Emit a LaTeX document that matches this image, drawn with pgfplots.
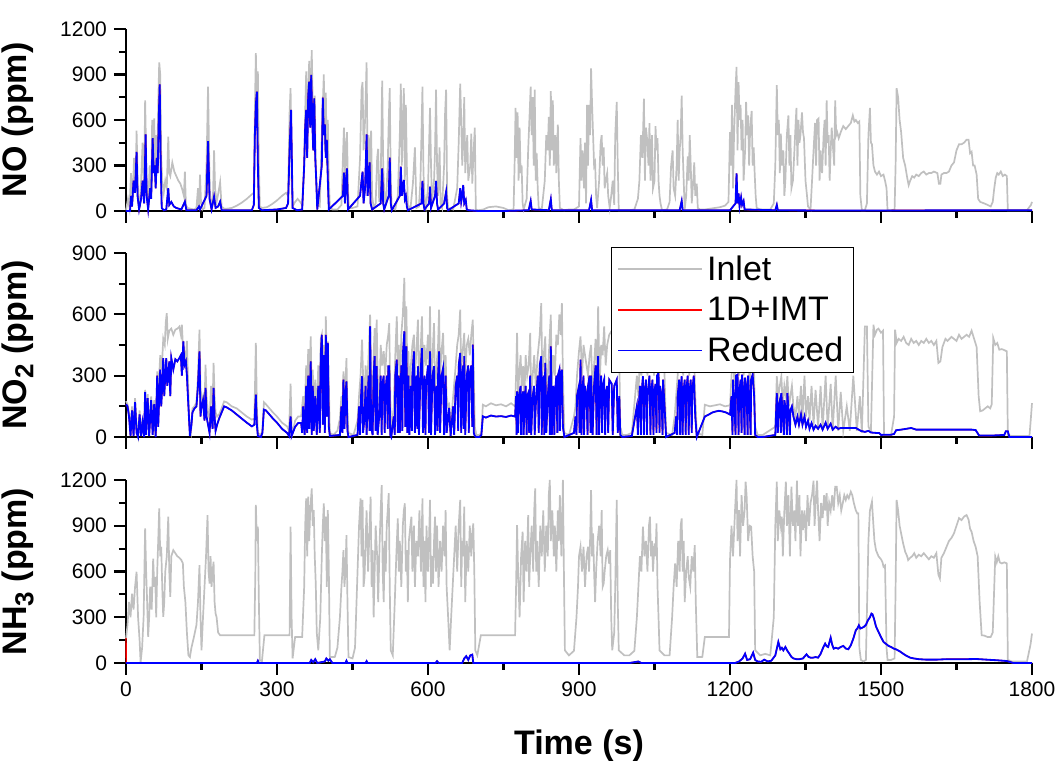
\documentclass[border=0pt]{standalone}
\usepackage{pgfplots}
\pgfplotsset{compat=1.18}
\usepackage{pgfplotstable}
\usepackage{fontspec}
\setmainfont{Liberation Sans}
\definecolor{inletgray}{RGB}{192,192,192}
\definecolor{redblue}{RGB}{0,0,255}
\definecolor{imtred}{RGB}{255,0,0}

% ---------------- NO inlet ----------------
\pgfplotstableread[row sep=\\]{t v\\
0 5\\4 80\\7 20\\10 250\\13 60\\16 350\\19 150\\21 530\\24 100\\27 20\\30 200\\33 450\\36 120\\38 730\\41 200\\44 30\\47 300\\50 120\\52 600\\54 400\\56 610\\58 250\\60 500\\62 300\\64 700\\66 980\\68 900\\70 350\\72 200\\75 120\\78 200\\81 150\\84 490\\86 250\\88 230\\92 320\\96 260\\100 230\\104 200\\108 180\\112 140\\115 100\\117 260\\119 40\\122 20\\128 15\\135 10\\140 20\\143 150\\145 10\\147 240\\149 60\\152 10\\156 20\\160 300\\163 820\\165 400\\167 80\\170 50\\173 120\\175 400\\177 150\\180 60\\183 110\\187 190\\190 30\\195 15\\200 15\\210 20\\220 35\\230 55\\240 80\\250 110\\254 120\\256 650\\258 1040\\260 700\\262 920\\264 300\\266 30\\270 20\\280 25\\290 45\\300 70\\310 100\\318 120\\322 100\\325 650\\327 810\\329 200\\331 30\\336 60\\341 80\\346 60\\350 40\\354 300\\356 650\\358 920\\360 500\\362 800\\364 990\\366 600\\369 1060\\371 700\\373 400\\375 760\\377 300\\380 40\\385 30\\389 500\\391 700\\393 900\\395 400\\397 780\\399 300\\401 600\\403 200\\405 30\\410 10\\420 10\\428 40\\431 350\\433 550\\435 200\\437 420\\439 520\\441 150\\443 20\\450 20\\460 30\\465 350\\468 800\\470 850\\472 400\\475 600\\478 980\\480 300\\482 500\\484 250\\487 530\\489 100\\492 20\\496 50\\499 350\\501 410\\503 60\\506 200\\509 860\\511 300\\513 120\\516 40\\520 300\\522 600\\524 810\\526 200\\528 20\\535 10\\540 100\\544 500\\546 840\\548 300\\550 600\\552 810\\554 200\\556 700\\558 300\\560 40\\565 10\\570 180\\574 420\\577 20\\582 30\\585 200\\587 500\\589 820\\591 250\\593 100\\596 30\\600 150\\604 680\\606 300\\608 60\\612 200\\614 400\\616 800\\618 300\\620 100\\623 420\\625 50\\628 20\\632 300\\634 650\\636 800\\638 100\\640 20\\650 10\\658 150\\661 450\\664 840\\666 600\\668 300\\670 450\\672 750\\674 250\\676 400\\678 500\\680 200\\684 300\\686 510\\688 180\\690 350\\693 550\\695 10\\700 5\\710 10\\720 25\\735 30\\750 20\\760 5\\770 10\\772 300\\774 680\\776 350\\778 650\\780 200\\782 550\\784 250\\786 300\\788 50\\790 10\\796 80\\799 400\\802 650\\804 820\\806 500\\808 750\\810 300\\812 800\\814 200\\816 380\\818 150\\820 20\\826 10\\832 200\\835 500\\838 400\\840 620\\842 300\\844 790\\846 400\\848 730\\850 300\\853 500\\855 250\\858 570\\860 200\\862 20\\870 5\\880 10\\890 10\\900 30\\903 480\\905 200\\907 400\\910 150\\912 450\\914 50\\916 700\\918 300\\920 700\\922 500\\924 940\\926 700\\928 500\\930 300\\932 320\\934 100\\936 20\\940 200\\943 450\\945 500\\947 300\\949 420\\951 150\\953 200\\956 250\\958 100\\961 20\\964 100\\967 200\\970 40\\972 500\\975 720\\977 300\\979 5\\990 5\\1000 5\\1010 10\\1017 80\\1020 200\\1023 500\\1026 350\\1029 740\\1031 200\\1033 550\\1036 450\\1038 300\\1040 580\\1042 200\\1045 500\\1047 150\\1050 200\\1052 560\\1054 400\\1056 480\\1058 200\\1060 100\\1062 50\\1065 5\\1075 10\\1080 60\\1083 300\\1086 400\\1088 150\\1091 100\\1094 300\\1096 600\\1098 200\\1100 400\\1102 500\\1104 760\\1106 400\\1108 200\\1110 10\\1113 100\\1116 360\\1118 200\\1120 500\\1122 300\\1124 50\\1127 200\\1129 320\\1131 100\\1134 180\\1136 20\\1140 10\\1150 10\\1160 15\\1170 20\\1180 25\\1190 35\\1197 60\\1200 520\\1202 300\\1204 700\\1206 150\\1208 500\\1211 800\\1213 950\\1215 400\\1217 850\\1219 600\\1221 700\\1223 400\\1225 600\\1227 200\\1230 400\\1232 720\\1234 500\\1236 630\\1238 300\\1240 540\\1243 660\\1245 300\\1247 420\\1249 250\\1251 100\\1253 20\\1260 10\\1270 10\\1280 10\\1287 50\\1290 300\\1293 830\\1295 500\\1297 600\\1299 250\\1301 510\\1303 300\\1306 400\\1308 100\\1310 200\\1313 500\\1316 630\\1318 300\\1320 500\\1322 150\\1325 200\\1328 400\\1330 550\\1332 680\\1334 300\\1336 600\\1338 450\\1340 500\\1343 650\\1345 520\\1347 480\\1350 200\\1353 100\\1355 30\\1360 10\\1363 200\\1366 400\\1369 580\\1371 300\\1373 600\\1376 610\\1378 200\\1380 400\\1383 250\\1386 500\\1388 600\\1390 300\\1392 730\\1394 450\\1396 500\\1398 200\\1400 400\\1402 550\\1404 450\\1407 300\\1409 730\\1411 500\\1413 520\\1416 480\\1420 520\\1425 560\\1430 540\\1435 560\\1440 580\\1444 630\\1447 590\\1450 600\\1454 580\\1457 590\\1459 100\\1462 5\\1468 5\\1472 50\\1475 500\\1478 680\\1480 450\\1482 440\\1485 300\\1488 260\\1492 240\\1496 260\\1500 230\\1505 240\\1508 200\\1511 150\\1513 5\\1520 5\\1527 10\\1529 300\\1531 810\\1534 750\\1537 600\\1540 520\\1544 350\\1548 300\\1552 220\\1555 170\\1558 200\\1562 230\\1566 220\\1570 240\\1575 230\\1580 250\\1585 260\\1590 240\\1595 250\\1600 250\\1605 260\\1612 250\\1615 180\\1618 180\\1620 240\\1625 250\\1630 250\\1635 260\\1640 300\\1645 320\\1650 400\\1655 440\\1660 440\\1665 450\\1670 470\\1674 470\\1677 380\\1680 390\\1683 300\\1686 300\\1690 240\\1693 80\\1697 60\\1705 50\\1712 40\\1718 30\\1722 60\\1725 150\\1728 220\\1731 250\\1734 240\\1738 260\\1742 230\\1746 240\\1750 230\\1752 5\\1760 5\\1790 5\\1798 40\\1800 60\\
}\NOin

% ---------------- NO reduced ----------------
\pgfplotstableread[row sep=\\]{t v\\
0 0\\8 0\\10 100\\12 30\\15 200\\18 120\\21 390\\23 100\\26 10\\30 80\\33 200\\36 50\\39 505\\41 100\\44 10\\48 150\\50 80\\53 480\\55 250\\57 300\\59 150\\61 350\\63 250\\65 600\\67 835\\69 300\\71 20\\75 5\\80 10\\84 150\\86 40\\90 60\\95 30\\100 20\\110 10\\117 62\\120 5\\140 5\\145 30\\147 10\\160 100\\163 460\\166 80\\170 10\\173 60\\175 95\\178 20\\183 30\\187 62\\190 5\\250 5\\254 40\\256 500\\258 700\\260 787\\262 300\\264 20\\270 5\\300 10\\318 20\\322 50\\325 400\\328 666\\331 20\\340 5\\350 10\\354 300\\356 550\\358 666\\360 350\\362 760\\364 853\\366 550\\368 897\\370 600\\372 400\\374 743\\376 350\\378 200\\380 10\\389 300\\391 747\\393 500\\395 571\\397 350\\399 468\\401 200\\403 10\\431 100\\433 253\\435 50\\437 200\\439 281\\441 10\\465 100\\468 200\\470 259\\472 50\\475 150\\478 505\\480 100\\482 200\\484 321\\486 50\\489 10\\506 50\\509 281\\511 50\\513 10\\522 100\\524 352\\526 50\\528 5\\544 100\\546 292\\548 100\\550 150\\552 204\\554 80\\556 100\\558 30\\560 5\\587 50\\589 198\\591 50\\593 10\\602 50\\604 160\\606 20\\614 100\\616 198\\618 50\\620 10\\632 50\\636 127\\638 20\\640 5\\661 50\\664 150\\666 60\\668 100\\670 171\\672 50\\675 73\\677 10\\680 5\\700 0\\750 0\\800 5\\804 66\\806 10\\840 5\\844 77\\846 5\\920 5\\924 73\\926 5\\1100 5\\1104 66\\1106 5\\1200 5\\1211 50\\1213 248\\1215 50\\1217 116\\1219 30\\1222 90\\1224 40\\1227 66\\1229 10\\1290 5\\1293 40\\1295 5\\1400 3\\1800 5\\
}\NOred

% ---------------- NO2 inlet ----------------
\pgfplotstableread[row sep=\\]{t v\\
0 175\\3 160\\6 120\\9 40\\12 150\\15 20\\18 190\\21 60\\24 10\\27 130\\30 20\\33 90\\36 10\\38 231\\40 50\\43 210\\46 30\\50 199\\53 60\\56 180\\59 10\\62 321\\65 250\\68 400\\71 330\\74 480\\77 450\\79 560\\81 606\\83 480\\86 520\\90 530\\94 500\\98 525\\102 530\\106 540\\109 500\\111 549\\113 450\\116 420\\119 378\\121 470\\123 300\\126 50\\129 20\\132 140\\136 150\\140 170\\143 300\\146 525\\148 250\\150 170\\153 200\\156 150\\158 354\\160 200\\163 120\\166 90\\169 250\\172 150\\174 362\\176 200\\178 120\\181 100\\185 110\\190 140\\195 174\\200 170\\210 150\\220 140\\230 120\\240 100\\250 85\\255 90\\258 460\\260 150\\262 20\\268 10\\271 30\\274 170\\278 160\\285 140\\292 120\\300 100\\310 70\\320 52\\324 30\\327 261\\329 50\\331 20\\336 80\\342 100\\348 101\\352 200\\355 120\\358 350\\360 200\\362 430\\364 250\\367 492\\369 200\\371 330\\373 150\\376 280\\379 100\\382 350\\385 200\\387 480\\389 500\\391 300\\393 450\\395 200\\397 590\\399 350\\401 468\\403 250\\405 20\\412 10\\420 30\\425 90\\428 200\\430 150\\432 321\\434 200\\436 260\\438 386\\440 120\\442 20\\452 10\\460 80\\463 200\\466 300\\469 476\\471 300\\474 150\\476 350\\479 250\\482 400\\485 598\\487 300\\490 150\\492 400\\494 533\\496 250\\498 574\\500 300\\503 150\\506 450\\509 350\\512 420\\515 300\\518 450\\521 500\\523 557\\525 200\\527 20\\532 150\\535 400\\538 590\\540 350\\542 450\\544 200\\547 500\\550 600\\553 778\\555 400\\557 639\\559 300\\561 420\\563 200\\566 350\\569 450\\572 500\\574 300\\577 420\\580 574\\582 250\\585 400\\588 590\\590 300\\593 450\\596 350\\600 500\\602 300\\604 639\\606 250\\609 400\\612 557\\614 200\\617 350\\620 450\\622 623\\624 300\\627 420\\630 509\\632 300\\635 400\\637 200\\640 150\\642 158\\645 50\\650 200\\655 350\\658 450\\661 500\\664 623\\666 300\\668 400\\670 450\\672 509\\674 300\\677 450\\680 480\\683 400\\686 500\\689 574\\691 300\\693 50\\696 10\\702 10\\706 20\\709 158\\715 150\\725 165\\735 155\\745 160\\755 150\\765 165\\773 150\\775 300\\777 509\\779 200\\781 300\\784 400\\786 250\\789 346\\791 150\\794 400\\797 300\\800 350\\803 509\\805 200\\808 300\\811 400\\814 250\\818 400\\822 500\\825 655\\827 300\\830 400\\833 492\\835 200\\838 300\\841 450\\844 598\\846 250\\849 400\\852 300\\855 500\\858 450\\861 600\\864 500\\866 655\\868 300\\871 20\\880 10\\890 100\\893 150\\896 300\\900 420\\903 492\\906 300\\909 450\\912 400\\915 350\\918 300\\921 400\\924 450\\927 200\\930 350\\933 480\\936 300\\938 639\\941 250\\944 450\\947 400\\950 541\\953 350\\956 450\\960 500\\965 520\\970 480\\975 541\\980 400\\982 50\\986 10\\995 10\\1005 20\\1015 300\\1018 200\\1021 400\\1024 300\\1027 476\\1030 350\\1033 450\\1036 300\\1040 500\\1043 350\\1046 450\\1049 300\\1052 420\\1055 500\\1058 530\\1061 400\\1064 350\\1067 450\\1070 300\\1073 20\\1085 10\\1090 100\\1093 200\\1096 300\\1099 400\\1102 350\\1104 450\\1107 300\\1110 400\\1113 350\\1116 480\\1119 300\\1122 420\\1125 350\\1128 450\\1131 200\\1134 20\\1145 10\\1150 158\\1160 150\\1170 155\\1180 160\\1190 150\\1200 155\\1203 300\\1206 400\\1209 250\\1212 450\\1215 500\\1218 300\\1221 400\\1224 520\\1227 300\\1230 450\\1233 350\\1236 480\\1239 250\\1242 420\\1245 480\\1248 300\\1250 50\\1255 10\\1265 10\\1290 50\\1293 297\\1296 200\\1299 250\\1302 297\\1305 150\\1308 250\\1311 200\\1314 297\\1317 150\\1320 200\\1323 250\\1326 150\\1330 100\\1334 200\\1337 100\\1341 250\\1344 90\\1348 300\\1351 100\\1355 200\\1358 80\\1362 250\\1366 60\\1370 230\\1375 50\\1380 250\\1384 40\\1390 300\\1394 40\\1400 260\\1404 30\\1410 300\\1415 30\\1420 220\\1425 30\\1432 150\\1438 30\\1445 300\\1452 30\\1458 200\\1462 20\\1468 541\\1472 541\\1475 50\\1480 30\\1485 549\\1488 500\\1492 525\\1495 530\\1500 510\\1504 520\\1506 10\\1520 10\\1526 100\\1528 525\\1531 460\\1535 480\\1540 470\\1545 490\\1550 460\\1555 450\\1560 480\\1565 460\\1570 470\\1575 450\\1580 470\\1585 460\\1590 480\\1595 460\\1600 470\\1605 450\\1610 470\\1614 362\\1618 370\\1622 440\\1628 480\\1632 470\\1636 480\\1640 490\\1645 480\\1650 470\\1655 500\\1660 480\\1665 490\\1670 500\\1675 490\\1680 520\\1685 480\\1690 440\\1694 200\\1697 126\\1702 130\\1707 140\\1712 150\\1717 140\\1720 160\\1723 484\\1727 450\\1731 460\\1735 427\\1740 430\\1745 425\\1750 419\\1752 10\\1760 5\\1795 5\\1798 100\\1800 166\\
}\NOtwoin

% ---------------- NO2 reduced ----------------
\pgfplotstableread[row sep=\\]{t v\\
0 160\\3 150\\6 100\\9 5\\12 130\\15 5\\18 170\\21 20\\24 0\\27 110\\30 5\\33 70\\36 0\\38 220\\40 10\\43 190\\46 5\\50 180\\53 10\\56 160\\59 0\\62 300\\64 50\\66 200\\68 330\\70 150\\72 250\\74 386\\76 200\\78 300\\80 386\\82 250\\84 300\\86 370\\88 200\\90 386\\94 330\\98 380\\102 370\\106 386\\109 400\\111 300\\114 468\\116 350\\119 370\\121 300\\124 150\\127 5\\130 60\\132 120\\136 140\\140 150\\143 250\\146 419\\148 100\\150 150\\153 180\\156 80\\158 240\\160 100\\163 60\\166 20\\169 150\\172 40\\174 240\\176 100\\178 30\\181 60\\185 90\\190 120\\195 150\\200 145\\210 130\\220 110\\230 90\\240 70\\250 52\\255 60\\258 207\\260 60\\262 5\\268 0\\271 20\\274 134\\278 130\\285 110\\292 90\\300 70\\310 40\\320 20\\324 5\\327 100\\329 5\\336 50\\342 68\\348 68\\350 20\\352 150\\355 10\\358 250\\360 20\\362 300\\364 40\\367 370\\369 10\\371 250\\373 30\\376 200\\379 10\\382 250\\385 20\\387 400\\389 500\\391 60\\393 400\\395 20\\397 500\\399 100\\401 460\\403 50\\405 5\\425 10\\428 150\\430 20\\432 280\\434 40\\436 200\\438 272\\440 30\\442 0\\460 10\\463 150\\465 10\\467 200\\469 297\\471 20\\474 100\\476 250\\478 10\\480 150\\482 300\\484 30\\485 541\\487 50\\490 10\\492 300\\494 395\\496 30\\498 346\\500 10\\503 100\\506 300\\508 10\\509 250\\512 300\\514 20\\515 200\\518 300\\520 40\\521 346\\523 346\\525 10\\527 0\\532 100\\534 10\\535 300\\538 378\\540 20\\542 300\\544 20\\547 350\\549 30\\550 400\\553 517\\555 50\\557 443\\559 20\\561 300\\563 10\\566 250\\568 30\\569 300\\572 419\\574 20\\577 300\\579 40\\580 346\\582 10\\585 300\\588 435\\590 20\\593 300\\595 10\\596 250\\600 350\\602 20\\604 419\\606 10\\609 300\\612 346\\614 10\\617 250\\619 30\\620 300\\622 419\\624 20\\627 300\\630 337\\632 10\\635 300\\637 20\\640 100\\642 142\\645 5\\650 150\\652 10\\655 250\\658 300\\660 30\\661 350\\664 411\\666 20\\668 300\\670 350\\671 40\\672 395\\674 10\\677 300\\680 350\\681 20\\683 300\\686 350\\688 50\\689 452\\691 20\\693 5\\696 0\\702 0\\706 10\\709 101\\715 95\\725 105\\735 100\\745 102\\755 98\\765 105\\773 100\\775 200\\776 10\\777 223\\779 20\\781 200\\784 250\\785 10\\786 150\\789 223\\790 10\\791 100\\794 250\\796 10\\797 200\\800 220\\801 20\\803 300\\805 10\\808 200\\811 250\\812 10\\814 150\\818 300\\820 20\\822 350\\825 395\\826 10\\827 200\\830 300\\831 10\\833 362\\835 20\\838 200\\841 300\\842 10\\844 443\\846 10\\849 250\\851 10\\852 200\\855 300\\857 20\\858 300\\861 329\\862 30\\864 300\\866 329\\868 50\\871 0\\890 20\\893 100\\895 10\\896 200\\900 250\\901 20\\903 378\\905 10\\906 200\\909 300\\910 10\\912 250\\915 200\\917 10\\918 250\\921 300\\923 20\\924 300\\927 10\\930 250\\933 350\\935 10\\936 200\\938 395\\940 10\\941 150\\944 300\\946 20\\947 250\\950 280\\952 10\\953 200\\956 250\\958 20\\960 280\\965 260\\967 10\\970 250\\975 280\\977 20\\980 200\\982 10\\986 0\\1005 5\\1015 150\\1017 10\\1018 100\\1021 250\\1023 10\\1024 200\\1027 297\\1029 10\\1030 200\\1033 280\\1035 10\\1036 200\\1040 300\\1042 10\\1043 200\\1046 280\\1048 10\\1049 200\\1052 260\\1054 20\\1055 300\\1058 313\\1060 20\\1061 250\\1064 200\\1066 10\\1067 280\\1070 150\\1073 0\\1090 20\\1093 100\\1095 10\\1096 200\\1099 280\\1101 10\\1102 200\\1104 297\\1106 10\\1107 200\\1110 280\\1112 10\\1113 220\\1116 300\\1118 10\\1119 200\\1122 280\\1124 20\\1125 220\\1128 300\\1131 100\\1134 0\\1150 100\\1158 110\\1165 120\\1172 125\\1178 128\\1185 125\\1192 120\\1200 110\\1203 200\\1205 10\\1206 280\\1209 150\\1211 10\\1212 300\\1215 305\\1217 10\\1218 200\\1221 280\\1223 20\\1224 305\\1227 200\\1229 10\\1230 290\\1233 230\\1235 10\\1236 300\\1239 150\\1241 10\\1242 280\\1245 305\\1248 200\\1250 10\\1255 0\\1265 0\\1290 10\\1293 215\\1295 20\\1296 150\\1299 180\\1301 20\\1302 215\\1305 100\\1307 10\\1308 180\\1311 130\\1313 10\\1314 215\\1317 100\\1319 10\\1320 130\\1323 150\\1326 101\\1330 60\\1334 100\\1337 60\\1341 110\\1344 60\\1348 100\\1351 50\\1355 80\\1358 40\\1362 68\\1366 36\\1370 55\\1375 40\\1380 60\\1384 36\\1390 70\\1394 40\\1400 65\\1404 36\\1410 50\\1415 40\\1420 44\\1430 44\\1440 44\\1450 44\\1460 30\\1468 25\\1475 30\\1480 22\\1490 20\\1496 20\\1500 10\\1505 11\\1520 11\\1526 15\\1530 33\\1540 36\\1550 40\\1560 44\\1570 36\\1580 36\\1600 36\\1620 36\\1640 36\\1660 36\\1680 36\\1688 34\\1695 7\\1720 7\\1745 10\\1748 28\\1752 28\\1755 0\\1800 0\\
}\NOtwored

% ---------------- NH3 inlet ----------------
\pgfplotstableread[row sep=\\]{t v\\
0 160\\3 250\\6 400\\9 300\\12 455\\15 350\\18 500\\21 598\\24 300\\27 150\\29 5\\32 100\\35 300\\38 883\\40 600\\42 400\\44 171\\46 300\\48 500\\51 350\\54 685\\56 500\\58 565\\60 300\\62 600\\64 800\\66 1014\\68 700\\70 762\\72 500\\74 302\\76 400\\78 600\\81 700\\84 959\\86 600\\88 434\\90 700\\94 740\\98 720\\102 700\\106 690\\110 675\\113 653\\115 500\\118 400\\121 200\\124 50\\127 39\\130 100\\135 171\\140 250\\143 400\\146 642\\148 300\\150 83\\153 300\\156 500\\159 700\\162 970\\164 600\\166 521\\168 700\\170 500\\172 600\\174 664\\176 400\\178 324\\180 300\\183 200\\187 182\\200 182\\215 182\\230 182\\245 182\\255 182\\257 600\\258 1036\\260 800\\262 894\\264 400\\266 20\\270 10\\275 182\\290 182\\305 182\\320 182\\325 182\\327 894\\329 300\\331 30\\336 171\\345 171\\350 171\\354 500\\356 900\\358 1080\\360 700\\362 1091\\364 800\\366 1000\\369 1145\\371 900\\373 1003\\375 700\\377 521\\379 200\\382 83\\386 300\\389 700\\391 900\\393 1047\\395 800\\397 959\\399 500\\401 1003\\403 600\\405 39\\415 40\\420 100\\425 300\\428 500\\430 600\\432 740\\434 500\\436 600\\438 839\\440 400\\442 39\\450 30\\455 100\\458 400\\460 600\\463 900\\466 1080\\468 700\\470 1069\\472 500\\474 565\\476 800\\478 1000\\481 600\\484 900\\486 1091\\488 500\\490 740\\492 300\\494 600\\496 900\\499 700\\501 400\\504 800\\506 1000\\508 1167\\510 600\\512 400\\514 800\\516 600\\518 900\\520 1000\\522 1113\\524 500\\526 83\\530 50\\534 400\\537 700\\540 948\\542 600\\544 800\\547 500\\550 900\\552 1000\\554 1047\\556 600\\558 740\\560 400\\562 800\\565 900\\567 959\\569 600\\572 900\\574 500\\577 800\\580 700\\583 1000\\586 600\\589 1080\\591 500\\593 800\\595 400\\597 900\\600 600\\602 800\\604 1069\\606 500\\608 700\\610 521\\612 800\\614 959\\616 600\\618 900\\621 500\\624 800\\627 600\\630 900\\633 700\\635 1003\\637 500\\640 300\\643 83\\646 300\\649 500\\652 700\\655 900\\658 600\\661 900\\664 1069\\666 500\\668 800\\670 700\\672 1025\\674 400\\677 800\\680 600\\683 900\\686 700\\688 850\\690 915\\692 600\\694 83\\698 50\\705 182\\715 182\\725 182\\735 182\\745 182\\755 182\\765 182\\773 182\\775 500\\777 904\\779 600\\782 300\\785 700\\788 861\\790 400\\793 800\\796 600\\799 970\\801 500\\803 700\\806 900\\809 600\\811 1000\\813 1145\\815 600\\817 800\\820 500\\823 900\\826 700\\829 1000\\832 600\\835 900\\838 700\\840 1100\\842 1200\\844 800\\847 1000\\850 700\\852 900\\855 600\\858 1000\\860 800\\862 1100\\865 700\\867 1000\\868 1200\\870 600\\872 83\\880 50\\890 80\\895 300\\898 500\\900 700\\903 762\\906 600\\909 762\\912 500\\915 700\\918 762\\920 600\\922 800\\924 1134\\926 700\\928 850\\930 600\\932 400\\934 600\\937 800\\940 900\\943 700\\945 1003\\947 500\\949 521\\951 600\\954 700\\957 740\\960 650\\962 740\\964 300\\966 83\\970 200\\972 500\\975 1069\\977 400\\979 83\\990 50\\1000 50\\1010 80\\1015 300\\1018 500\\1021 700\\1024 600\\1027 894\\1030 700\\1033 800\\1036 600\\1039 900\\1041 959\\1043 700\\1045 800\\1047 600\\1050 784\\1052 700\\1054 915\\1056 500\\1058 300\\1060 83\\1070 50\\1080 50\\1085 300\\1088 500\\1091 653\\1094 500\\1097 800\\1100 600\\1102 900\\1104 948\\1106 600\\1108 800\\1110 400\\1113 600\\1116 700\\1118 565\\1121 500\\1124 700\\1127 600\\1130 773\\1132 400\\1135 39\\1145 40\\1150 171\\1160 171\\1170 171\\1180 171\\1190 171\\1198 171\\1200 675\\1203 900\\1206 700\\1210 1000\\1213 1200\\1215 800\\1218 1003\\1220 700\\1223 1100\\1226 900\\1229 1000\\1231 1189\\1233 1100\\1236 800\\1239 900\\1242 894\\1245 700\\1248 600\\1250 83\\1260 50\\1270 60\\1280 50\\1287 300\\1290 900\\1293 1189\\1295 800\\1298 1000\\1301 900\\1303 959\\1305 700\\1308 1000\\1311 1189\\1313 900\\1316 1100\\1319 700\\1322 1156\\1325 900\\1328 1000\\1330 800\\1333 1196\\1335 900\\1338 1100\\1340 700\\1343 1000\\1345 872\\1348 1000\\1351 800\\1354 1100\\1357 900\\1360 1050\\1363 1100\\1366 1196\\1368 900\\1371 1100\\1373 1196\\1375 1000\\1378 800\\1381 1050\\1384 950\\1387 1100\\1389 1000\\1392 1113\\1394 900\\1397 1050\\1400 1000\\1403 1100\\1406 1000\\1409 1156\\1412 1156\\1415 1050\\1418 1100\\1421 1000\\1424 1047\\1427 1100\\1430 1069\\1433 1100\\1436 1080\\1440 1123\\1443 1100\\1446 1050\\1450 1000\\1453 980\\1455 981\\1457 100\\1460 20\\1465 10\\1470 20\\1475 800\\1478 1000\\1482 1058\\1485 900\\1487 800\\1490 740\\1495 700\\1500 680\\1503 660\\1505 631\\1508 640\\1511 100\\1513 20\\1520 20\\1527 30\\1529 500\\1531 1069\\1534 1000\\1537 900\\1540 850\\1544 784\\1548 730\\1552 700\\1554 675\\1558 690\\1562 700\\1566 720\\1570 690\\1575 710\\1580 700\\1585 720\\1590 700\\1595 680\\1600 700\\1605 690\\1610 720\\1614 580\\1617 554\\1620 690\\1625 720\\1630 760\\1635 800\\1640 820\\1645 850\\1650 900\\1655 950\\1660 937\\1665 960\\1670 970\\1674 940\\1677 880\\1680 860\\1684 800\\1688 762\\1692 700\\1696 400\\1700 182\\1705 180\\1712 170\\1718 171\\1722 200\\1725 500\\1727 697\\1730 660\\1733 700\\1736 660\\1740 653\\1745 660\\1750 653\\1752 20\\1760 10\\1790 10\\1797 120\\1800 193\\
}\NHin

% ---------------- NH3 reduced ----------------
\pgfplotstableread[row sep=\\]{t v\\
0 0\\260 0\\262 15\\264 0\\365 0\\368 20\\372 5\\376 25\\380 0\\395 10\\398 30\\402 15\\405 25\\410 0\\436 0\\438 15\\440 0\\476 0\\478 12\\480 0\\615 0\\618 12\\621 0\\668 0\\672 30\\676 45\\680 20\\684 50\\688 55\\690 0\\1000 0\\1018 10\\1024 0\\1210 0\\1218 10\\1225 30\\1230 61\\1234 20\\1240 25\\1246 68\\1250 20\\1255 10\\1262 8\\1268 22\\1275 10\\1282 15\\1290 50\\1296 138\\1300 90\\1303 100\\1306 83\\1310 105\\1314 80\\1318 61\\1322 40\\1326 30\\1332 25\\1338 25\\1345 30\\1352 57\\1356 40\\1360 35\\1365 35\\1370 39\\1375 35\\1380 60\\1385 100\\1389 127\\1392 110\\1395 105\\1400 166\\1403 120\\1406 94\\1410 100\\1415 94\\1420 105\\1425 112\\1430 95\\1435 90\\1440 116\\1445 160\\1450 215\\1453 226\\1456 247\\1459 226\\1462 230\\1466 237\\1470 250\\1474 280\\1478 300\\1481 324\\1483 320\\1486 291\\1490 240\\1495 204\\1500 170\\1505 138\\1510 125\\1515 112\\1520 105\\1525 95\\1531 88\\1538 75\\1544 61\\1550 48\\1558 35\\1565 30\\1575 25\\1590 22\\1610 22\\1630 25\\1650 25\\1670 25\\1690 26\\1710 22\\1730 18\\1750 13\\1763 0\\1800 0\\
}\NHred

\pgfplotsset{
  panel/.style={
    scale only axis, width=453pt,
    xmin=0, xmax=1800,
    axis lines*=left,
    axis line style={black, line width=1.1pt},
    tick align=outside,
    major tick length=6pt, minor tick length=3.5pt,
    tick style={black, line width=1.1pt},
    xtick={0,300,...,1800}, minor x tick num=1, minor y tick num=1,
    tick label style={font=\fontsize{10.5}{12}\selectfont},
    /pgf/number format/assume math mode=true,
    /pgf/number format/1000 sep={},
    every axis y label/.style={at={(axis description cs:-0.119,0.5)}, rotate=90, anchor=center, font=\fontsize{17}{20}\selectfont\bfseries},
    clip=false,
  },
  inletline/.style={color=inletgray, line width=0.85pt},
  imtline/.style={color=imtred, line width=0.7pt},
  redline/.style={color=redblue, line width=0.9pt},
}

\begin{document}
\begin{tikzpicture}
\path[use as bounding box] (0,0) rectangle (531pt,380.5pt);

% ---- top: NO ----
\begin{axis}[panel, at={(63pt,275pt)}, anchor=south west, height=91pt,
  ymin=0, ymax=1200, ytick={0,300,...,1200}, xticklabel=\empty,
  ylabel={NO (ppm)}]
  \addplot[inletline] table[x=t,y=v] {\NOin};
  \addplot[imtline] table[x=t,y=v] {\NOred};
  \addplot[redline] table[x=t,y=v] {\NOred};
\end{axis}

% ---- middle: NO2 ----
\begin{axis}[panel, at={(63pt,162pt)}, anchor=south west, height=92pt,
  ymin=0, ymax=900, ytick={0,300,600,900}, xticklabel=\empty,
  ylabel={NO\raisebox{-0.35ex}{\fontsize{13}{13}\selectfont 2} (ppm)},
  legend style={at={(0.535,1.033)}, anchor=north west, draw=black, line width=0.6pt,
    font=\fontsize{17}{19}\selectfont, inner xsep=3pt, inner ysep=2pt, row sep=2.8pt},
  legend cell align=left,
  legend image code/.code={\draw[#1] (0pt,0pt) -- (42pt,0pt);}]
  \addplot[inletline] table[x=t,y=v] {\NOtwoin};
  \addlegendentry{Inlet}
  \addplot[imtline] table[x=t,y=v] {\NOtwored};
  \addlegendentry{1D+IMT}
  \addplot[redline] table[x=t,y=v] {\NOtwored};
  \addlegendentry{Reduced}
\end{axis}

% ---- bottom: NH3 ----
\begin{axis}[panel, at={(63pt,49pt)}, anchor=south west, height=91.5pt,
  ymin=0, ymax=1200, ytick={0,300,...,1200},
  ylabel={NH\raisebox{-0.35ex}{\fontsize{13}{13}\selectfont 3} (ppm)},
  xlabel={Time (s)},
  xlabel style={at={(axis description cs:0.5,0)}, anchor=base, yshift=-46pt, font=\fontsize{17}{20}\selectfont\bfseries}]
  \addplot[inletline] table[x=t,y=v] {\NHin};
  \addplot[imtline] coordinates {(0,164) (0.5,0)};
  \addplot[imtline] table[x=t,y=v] {\NHred};
  \addplot[redline] table[x=t,y=v] {\NHred};
\end{axis}
\end{tikzpicture}
\end{document}
